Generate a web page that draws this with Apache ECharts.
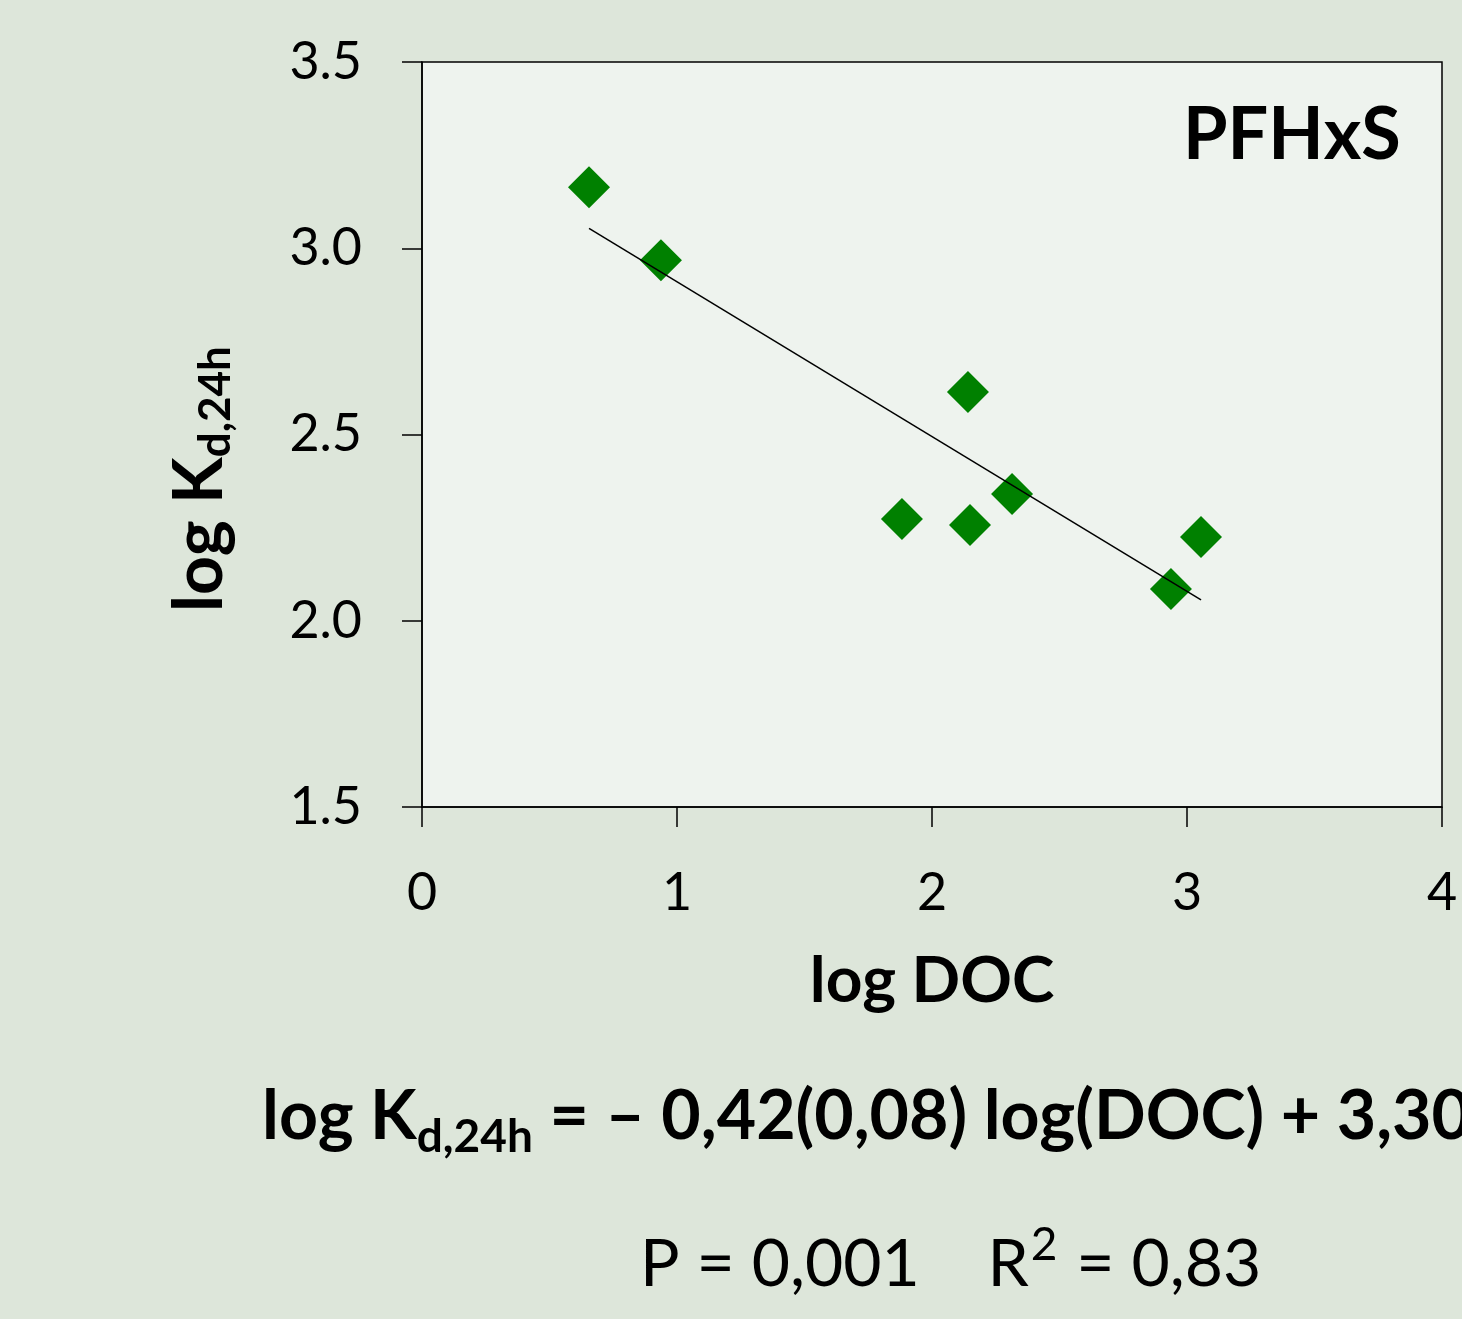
<!DOCTYPE html>
<html>
<head>
<meta charset="utf-8">
<script src="https://cdn.jsdelivr.net/npm/echarts@6/dist/echarts.min.js"></script>
<style>
  html, body { margin: 0; padding: 0; background: #dde6da; }
  #main { width: 1462px; height: 1319px; }
</style>
</head>
<body>
<div id="main"></div>
<script>
// 数据：log DOC 与 log Kd,24h
var logDOC = [0.655, 0.937, 2.141, 1.882, 2.149, 2.314, 2.937, 3.055];
var logKd = [3.164, 2.968, 2.614, 2.273, 2.257, 2.340, 2.085, 2.225];
var xTicks = [0, 1, 2, 3, 4];
var yTicks = [1.5, 2.0, 2.5, 3.0, 3.5];
var compound = 'PFHxS';

var FONT = 'Lato';

// 最小二乘拟合趋势线
function fitLine(xs, ys){
	var n = xs.length, mx = 0, my = 0;
	for(var i = 0;i<n;i++){ mx += xs[i]; my += ys[i]; }
	mx /= n; my /= n;
	var sxy = 0, sxx = 0;
	for(var j = 0;j<n;j++){
		sxy += (xs[j]-mx)*(ys[j]-my);
		sxx += (xs[j]-mx)*(xs[j]-mx);
	}
	var k = sxy/sxx;
	var b = my - k*mx;
	var x0 = Math.min.apply(null, xs), x1 = Math.max.apply(null, xs);
	return [[x0, k*x0+b], [x1, k*x1+b]];
}

var points = [];
for(var i = 0;i<logDOC.length;i++){
	points.push([logDOC[i], logKd[i]]);
}

var chart = echarts.init(document.getElementById('main'));

var option = {
	backgroundColor: '#dde6da',
	animation: false,
	grid: {
		left: 422, top: 62, width: 1020, height: 745,
		show: true,
		backgroundColor: '#eef3ee',
		borderColor: '#000',
		borderWidth: 1.5
	},
	xAxis: {
		type: 'value',
		min: xTicks[0], max: xTicks[xTicks.length-1], interval: 1,
		axisLine: { show: true, lineStyle: { color: '#000', width: 1.5 } },
		axisTick: { show: true, inside: false, length: 20, lineStyle: { color: '#000', width: 1.5 } },
		splitLine: { show: false },
		axisLabel: { margin: 60, fontFamily: FONT, fontSize: 52, color: '#000' },
		name: 'log DOC',
		nameLocation: 'middle',
		nameGap: 142,
		nameTextStyle: { fontFamily: FONT, fontSize: 64, fontWeight: 'bold', color: '#000' }
	},
	yAxis: {
		type: 'value',
		min: yTicks[0], max: yTicks[yTicks.length-1], interval: 0.5,
		axisLine: { show: true, lineStyle: { color: '#000', width: 1.5 } },
		axisTick: { show: true, inside: false, length: 20, lineStyle: { color: '#000', width: 1.5 } },
		splitLine: { show: false },
		axisLabel: {
			margin: 60, fontFamily: FONT, fontSize: 52, color: '#000',
			formatter: function(v){ return v.toFixed(1); }
		}
	},
	series: [{
		type: 'scatter',
		symbol: 'diamond',
		symbolSize: 42,
		itemStyle: { color: '#008000', opacity: 1 },
		data: points,
		z: 3
	}, {
		type: 'line',
		data: fitLine(logDOC, logKd),
		symbol: 'none',
		lineStyle: { color: '#000', width: 1.5 },
		z: 4
	}],
	graphic: [{
		type: 'text',
		left: 1183, top: 100,
		style: { text: compound, fontFamily: FONT, fontSize: 72, fontWeight: 'bold', fill: '#000' }
	}, {
		type: 'text',
		x: 162, y: 612,
		rotation: Math.PI/2,
		style: {
			text: '{a|log K}{b|d,24h}',
			fill: '#000',
			rich: {
				a: { fontFamily: FONT, fontSize: 68, fontWeight: 'bold', fill: '#000' },
				b: { fontFamily: FONT, fontSize: 44, fontWeight: 'bold', fill: '#000', padding: [32, 0, 0, 0] }
			}
		}
	}, {
		type: 'text',
		x: 262, y: 1074,
		style: {
			text: '{a|log K}{b|d,24h}{a| = – 0,42(0,08) log(DOC) + 3,30(0,19)}',
			fill: '#000',
			rich: {
				a: { fontFamily: FONT, fontSize: 68, fontWeight: 'bold', fill: '#000' },
				b: { fontFamily: FONT, fontSize: 46, fontWeight: 'bold', fill: '#000', padding: [40, 0, 0, 0] }
			}
		}
	}, {
		type: 'text',
		x: 640, y: 1222,
		style: {
			text: '{a|P = 0,001    R}{s|2}{a| = 0,83}',
			fill: '#000',
			rich: {
				a: { fontFamily: FONT, fontSize: 66, fill: '#000' },
				s: { fontFamily: FONT, fontSize: 46, fill: '#000', padding: [0, 2, 40, 2] }
			}
		}
	}]
};

chart.setOption(option);
</script>
</body>
</html>
